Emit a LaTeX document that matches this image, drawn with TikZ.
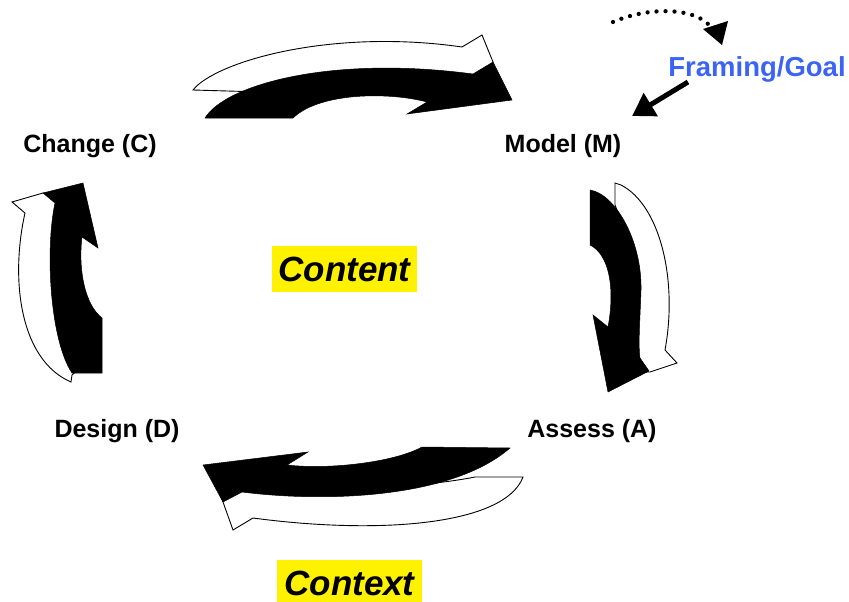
\documentclass[tikz,border=0pt]{standalone}
\usepackage{fontspec}
\setmainfont{Liberation Sans}
\usetikzlibrary{arrows.meta}
\definecolor{goalblue}{RGB}{59,100,246}
\tikzset{
  backband/.style={fill=white, draw=black, line width=0.9pt, line join=miter},
  frontband/.style={fill=black, draw=black, line width=0.5pt, line join=miter},
  stagelabel/.style={font=\fontsize{25}{30}\selectfont\bfseries, anchor=base, inner sep=0pt},
  themebox/.style={fill=yellow, font=\fontsize{35}{42}\selectfont\bfseries\itshape,
    minimum width=145pt, minimum height=46pt, inner sep=0pt},
}
\begin{document}
\begin{tikzpicture}[x=1pt, y=-1pt]
\useasboundingbox (0,0) rectangle (849,602);

% stage labels
\node[stagelabel] (change) at (90,152) {Change (C)};
\node[stagelabel] (model)  at (563,152) {Model (M)};
\node[stagelabel] (design) at (117,437) {Design (D)};
\node[stagelabel] (assess) at (592,437) {Assess (A)};

% themes
\node[themebox] (content) at (344.5,269) {Content};
\node[themebox] (context) at (349.5,583) {Context};

% framing note
\node[font=\fontsize{27.5}{33}\selectfont\bfseries, text=goalblue, anchor=base, inner sep=0pt]
  (goal) at (757,77) {Framing/Goal};

% top: Change -> Model
\draw[backband] (193,90) .. controls (215,62) and (330,28) .. (462,47)
  -- (482,35) -- (493,62) -- (490,84) -- (480,86)
  .. controls (420,74) and (320,77) .. (262,92) -- cycle;
\draw[frontband] (205,118) .. controls (225,85) and (330,55) .. (473,74)
  -- (493,62) -- (512,100) -- (407,114) -- (427,102)
  .. controls (390,92) and (320,92) .. (293,118) -- cycle;

% right: Model -> Assess
\draw[backband] (615,183) -- (621,185) .. controls (660,205) and (678,280) .. (665,350)
  -- (677,363) -- (650,372) -- (632,372)
  .. controls (630,320) and (630,240) .. (615,205) -- cycle;
\draw[frontband] (590,190) .. controls (615,194) and (642,240) .. (641,290)
  .. controls (640,320) and (638,345) .. (640,358)
  -- (649,371) -- (608,392) -- (593,315) -- (608,327)
  .. controls (615,290) and (610,255) .. (590,245) -- cycle;

% bottom: Assess -> Design
\draw[backband] (523,477) .. controls (505,525) and (380,535) .. (253,518)
  -- (233,530) -- (223,502) -- (218,488)
  .. controls (300,495) and (420,488) .. (475,477) -- cycle;
\draw[frontband] (510,448) -- (422,447) .. controls (395,462) and (330,470) .. (287,465)
  -- (308,452) -- (203,465) -- (223,502) -- (242,492)
  .. controls (320,502) and (450,500) .. (510,448) -- cycle;

% left: Design -> Change
\draw[backband] (12,202) -- (43,193) -- (58,194) -- (65,215)
  .. controls (60,280) and (62,330) .. (80,368) -- (72,375) -- (71,382)
  .. controls (20,360) and (10,280) .. (25,213) -- cycle;
\draw[frontband] (83,183) -- (98,248) -- (82,237)
  .. controls (78,270) and (85,305) .. (102,318) -- (102,373) -- (72,373)
  .. controls (50,340) and (45,250) .. (55,203) -- (43,193) -- cycle;

% framing arrows
\coordinate (loopstart) at (613,22);
\coordinate (pointer) at (688,82);
\draw[line width=4.3pt, line cap=round, dash pattern=on 0pt off 9pt]
  (loopstart) .. controls (650,6) and (695,8) .. (710,26);
\fill (703,29) -- (728,21) -- (722,45) -- cycle;
\draw[line width=5pt, -{Triangle[length=22pt,width=26pt]}] (pointer) -- (632,116);
\end{tikzpicture}
\end{document}
